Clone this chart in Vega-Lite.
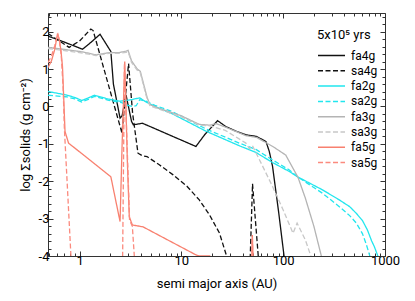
{
"$schema": "https://vega.github.io/schema/vega-lite/v6.json",
"width": 337, "height": 243,
"autosize": {"type": "none"},
"padding": {"left": 48, "top": 13, "right": 30, "bottom": 45},
"background": "white",
"config": {
  "view": {"stroke": "#333", "strokeWidth": 1},
  "font": "Roboto",
  "axis": {"domain": false, "grid": false, "labelFlush": false, "labelOverlap": false, "tickColor": "#333", "labelFont": "Roboto", "labelFontSize": 13, "labelColor": "#000", "titleFont": "Roboto", "titleFontSize": 13, "titleFontWeight": "normal", "titleColor": "#000"},
  "legend": {"orient": "none", "legendX": 269, "legendY": 16, "symbolType": "stroke", "symbolSize": 729, "symbolStrokeWidth": 1.5, "clipHeight": 11, "rowPadding": 2.3, "labelOffset": 5, "labelFont": "Roboto", "labelFontSize": 12, "labelColor": "#000", "titleFont": "Roboto", "titleFontSize": 13, "titleFontWeight": "normal", "titleColor": "#000", "titlePadding": 8, "padding": 0}
},
"data": {"values": [
{"s":"fa4g","a":0.49,"v":1.88},{"s":"fa4g","a":0.61,"v":1.79},{"s":"fa4g","a":0.76,"v":1.69},{"s":"fa4g","a":1.07,"v":1.53},{"s":"fa4g","a":1.3,"v":1.72},{"s":"fa4g","a":1.59,"v":1.93},{"s":"fa4g","a":2.03,"v":1.47},{"s":"fa4g","a":2.15,"v":0.6},{"s":"fa4g","a":2.5,"v":-0.31},{"s":"fa4g","a":2.62,"v":-0.25},{"s":"fa4g","a":2.86,"v":0.31},{"s":"fa4g","a":3.24,"v":-0.4},{"s":"fa4g","a":3.37,"v":-0.49},{"s":"fa4g","a":4.16,"v":-0.45},{"s":"fa4g","a":13.9,"v":-1.07},{"s":"fa4g","a":17,"v":-0.75},{"s":"fa4g","a":22.7,"v":-0.38},{"s":"fa4g","a":27.4,"v":-0.54},{"s":"fa4g","a":35,"v":-0.67},{"s":"fa4g","a":43.3,"v":-0.76},{"s":"fa4g","a":54.3,"v":-0.8},{"s":"fa4g","a":62.9,"v":-0.89},{"s":"fa4g","a":67.8,"v":-0.94},{"s":"fa4g","a":73,"v":-1.2},{"s":"fa4g","a":78.6,"v":-1.6},{"s":"fa4g","a":90,"v":-2.8},{"s":"fa4g","a":102,"v":-4},{"s":"fa4g","a":110,"v":-5},
{"s":"sa4g","a":0.49,"v":1.95},{"s":"sa4g","a":0.79,"v":1.58},{"s":"sa4g","a":1.0,"v":1.75},{"s":"sa4g","a":1.29,"v":2.07},{"s":"sa4g","a":1.36,"v":2.03},{"s":"sa4g","a":2.61,"v":-0.71},{"s":"sa4g","a":3.03,"v":1.15},{"s":"sa4g","a":3.32,"v":-0.18},{"s":"sa4g","a":3.75,"v":-1.25},{"s":"sa4g","a":4.16,"v":-1.32},{"s":"sa4g","a":4.6,"v":-1.34},{"s":"sa4g","a":6.07,"v":-1.56},{"s":"sa4g","a":8.3,"v":-1.83},{"s":"sa4g","a":11.4,"v":-2.14},{"s":"sa4g","a":15,"v":-2.5},{"s":"sa4g","a":18.9,"v":-2.9},{"s":"sa4g","a":23.7,"v":-3.39},{"s":"sa4g","a":27.8,"v":-4},{"s":"sa4g","a":30,"v":-5},{"s":"sa4g","a":46,"v":-5},{"s":"sa4g","a":47.5,"v":-4},{"s":"sa4g","a":50,"v":-2.07},{"s":"sa4g","a":56.9,"v":-4},{"s":"sa4g","a":60,"v":-5},
{"s":"fa2g","a":0.49,"v":0.4},{"s":"fa2g","a":0.735,"v":0.31},{"s":"fa2g","a":0.9,"v":0.24},{"s":"fa2g","a":1.05,"v":0.16},{"s":"fa2g","a":1.2,"v":0.22},{"s":"fa2g","a":1.4,"v":0.3},{"s":"fa2g","a":1.9,"v":0.2},{"s":"fa2g","a":2.5,"v":0.14},{"s":"fa2g","a":3.2,"v":0.18},{"s":"fa2g","a":3.9,"v":0.23},{"s":"fa2g","a":4.5,"v":0.12},{"s":"fa2g","a":5.5,"v":0.0},{"s":"fa2g","a":8.2,"v":-0.2},{"s":"fa2g","a":17.4,"v":-0.66},{"s":"fa2g","a":37,"v":-1.05},{"s":"fa2g","a":54,"v":-1.23},{"s":"fa2g","a":78.6,"v":-1.5},{"s":"fa2g","a":115,"v":-1.74},{"s":"fa2g","a":138,"v":-1.88},{"s":"fa2g","a":243,"v":-2.23},{"s":"fa2g","a":356,"v":-2.5},{"s":"fa2g","a":450,"v":-2.68},{"s":"fa2g","a":523,"v":-2.86},{"s":"fa2g","a":600,"v":-3.05},{"s":"fa2g","a":671,"v":-3.3},{"s":"fa2g","a":740,"v":-3.6},{"s":"fa2g","a":786,"v":-3.75},{"s":"fa2g","a":850,"v":-4},{"s":"fa2g","a":900,"v":-5},
{"s":"sa2g","a":0.49,"v":0.3},{"s":"sa2g","a":0.735,"v":0.26},{"s":"sa2g","a":0.9,"v":0.2},{"s":"sa2g","a":1.05,"v":0.12},{"s":"sa2g","a":1.2,"v":0.18},{"s":"sa2g","a":1.4,"v":0.27},{"s":"sa2g","a":1.9,"v":0.17},{"s":"sa2g","a":2.6,"v":0.1},{"s":"sa2g","a":2.9,"v":0.04},{"s":"sa2g","a":3.3,"v":0.0},{"s":"sa2g","a":3.6,"v":0.02},{"s":"sa2g","a":3.9,"v":0.18},{"s":"sa2g","a":4.5,"v":0.14},{"s":"sa2g","a":5.5,"v":0.03},{"s":"sa2g","a":8.2,"v":-0.14},{"s":"sa2g","a":17.4,"v":-0.6},{"s":"sa2g","a":37,"v":-0.98},{"s":"sa2g","a":54,"v":-1.15},{"s":"sa2g","a":78.6,"v":-1.43},{"s":"sa2g","a":115,"v":-1.7},{"s":"sa2g","a":138,"v":-1.88},{"s":"sa2g","a":243,"v":-2.32},{"s":"sa2g","a":356,"v":-2.68},{"s":"sa2g","a":450,"v":-2.92},{"s":"sa2g","a":523,"v":-3.12},{"s":"sa2g","a":600,"v":-3.4},{"s":"sa2g","a":650,"v":-3.66},{"s":"sa2g","a":710,"v":-4},{"s":"sa2g","a":760,"v":-5},
{"s":"fa3g","a":0.49,"v":1.58},{"s":"fa3g","a":0.735,"v":1.52},{"s":"fa3g","a":1.07,"v":1.46},{"s":"fa3g","a":1.45,"v":1.38},{"s":"fa3g","a":1.96,"v":1.44},{"s":"fa3g","a":2.45,"v":1.44},{"s":"fa3g","a":2.86,"v":1.48},{"s":"fa3g","a":3.0,"v":1.5},{"s":"fa3g","a":3.24,"v":1.22},{"s":"fa3g","a":3.69,"v":1.0},{"s":"fa3g","a":3.95,"v":0.94},{"s":"fa3g","a":4.6,"v":0.25},{"s":"fa3g","a":4.9,"v":0.05},{"s":"fa3g","a":6,"v":-0.05},{"s":"fa3g","a":10,"v":-0.25},{"s":"fa3g","a":15,"v":-0.48},{"s":"fa3g","a":19,"v":-0.5},{"s":"fa3g","a":22,"v":-0.46},{"s":"fa3g","a":27,"v":-0.55},{"s":"fa3g","a":43,"v":-0.78},{"s":"fa3g","a":55,"v":-0.83},{"s":"fa3g","a":63,"v":-0.92},{"s":"fa3g","a":79,"v":-1.07},{"s":"fa3g","a":106,"v":-1.3},{"s":"fa3g","a":130,"v":-1.74},{"s":"fa3g","a":140,"v":-1.9},{"s":"fa3g","a":165,"v":-2.45},{"s":"fa3g","a":200,"v":-3.2},{"s":"fa3g","a":237,"v":-4},{"s":"fa3g","a":260,"v":-5},
{"s":"sa3g","a":0.49,"v":1.55},{"s":"sa3g","a":0.735,"v":1.49},{"s":"sa3g","a":1.07,"v":1.43},{"s":"sa3g","a":1.45,"v":1.36},{"s":"sa3g","a":1.96,"v":1.42},{"s":"sa3g","a":2.45,"v":1.42},{"s":"sa3g","a":2.86,"v":1.45},{"s":"sa3g","a":3.0,"v":1.46},{"s":"sa3g","a":3.24,"v":1.18},{"s":"sa3g","a":3.69,"v":0.97},{"s":"sa3g","a":3.95,"v":0.9},{"s":"sa3g","a":4.5,"v":0.3},{"s":"sa3g","a":4.9,"v":0.02},{"s":"sa3g","a":6,"v":-0.07},{"s":"sa3g","a":10,"v":-0.28},{"s":"sa3g","a":15,"v":-0.5},{"s":"sa3g","a":19,"v":-0.52},{"s":"sa3g","a":27,"v":-0.64},{"s":"sa3g","a":43,"v":-0.98},{"s":"sa3g","a":46.6,"v":-1.13},{"s":"sa3g","a":50,"v":-1.05},{"s":"sa3g","a":58.6,"v":-1.43},{"s":"sa3g","a":78.6,"v":-2.14},{"s":"sa3g","a":100,"v":-2.77},{"s":"sa3g","a":125,"v":-3.39},{"s":"sa3g","a":137,"v":-3.12},{"s":"sa3g","a":165,"v":-3.57},{"s":"sa3g","a":187,"v":-4},{"s":"sa3g","a":200,"v":-5},
{"s":"fa5g","a":0.49,"v":1.04},{"s":"fa5g","a":0.53,"v":1.22},{"s":"fa5g","a":0.57,"v":1.52},{"s":"fa5g","a":0.595,"v":1.8},{"s":"fa5g","a":0.608,"v":1.95},{"s":"fa5g","a":0.63,"v":1.8},{"s":"fa5g","a":0.655,"v":1.52},{"s":"fa5g","a":0.68,"v":1.07},{"s":"fa5g","a":0.72,"v":-0.67},{"s":"fa5g","a":0.78,"v":-0.98},{"s":"fa5g","a":2.03,"v":-1.88},{"s":"fa5g","a":2.3,"v":-2.6},{"s":"fa5g","a":2.5,"v":-3.08},{"s":"fa5g","a":2.62,"v":-1.0},{"s":"fa5g","a":2.78,"v":1.2},{"s":"fa5g","a":2.95,"v":-1.5},{"s":"fa5g","a":3.08,"v":-2.95},{"s":"fa5g","a":3.3,"v":-3.17},{"s":"fa5g","a":4.2,"v":-3.22},{"s":"fa5g","a":13.9,"v":-3.97},{"s":"fa5g","a":15,"v":-4.0},{"s":"fa5g","a":19,"v":-4.0},{"s":"fa5g","a":22,"v":-5},{"s":"fa5g","a":45,"v":-5},{"s":"fa5g","a":49.2,"v":-4},{"s":"fa5g","a":49.8,"v":-3.44},{"s":"fa5g","a":50.5,"v":-4},{"s":"fa5g","a":55,"v":-5},
{"s":"sa5g","a":0.49,"v":1.17},{"s":"sa5g","a":0.53,"v":1.35},{"s":"sa5g","a":0.57,"v":1.62},{"s":"sa5g","a":0.6,"v":1.88},{"s":"sa5g","a":0.612,"v":1.93},{"s":"sa5g","a":0.635,"v":1.75},{"s":"sa5g","a":0.66,"v":1.4},{"s":"sa5g","a":0.69,"v":0.5},{"s":"sa5g","a":0.71,"v":-0.6},{"s":"sa5g","a":0.823,"v":-4},{"s":"sa5g","a":0.85,"v":-5},{"s":"sa5g","a":2.55,"v":-5},{"s":"sa5g","a":2.65,"v":-4},{"s":"sa5g","a":2.76,"v":1.15},{"s":"sa5g","a":3.1,"v":-3.05},{"s":"sa5g","a":3.3,"v":-3.2},{"s":"sa5g","a":3.45,"v":-4},{"s":"sa5g","a":3.55,"v":-5},{"s":"sa5g","a":45,"v":-5},{"s":"sa5g","a":49.3,"v":-4},{"s":"sa5g","a":49.8,"v":-3.5},{"s":"sa5g","a":50.3,"v":-4},{"s":"sa5g","a":55,"v":-5}
]},
"layer": [
 {"mark": {"type": "line", "clip": true, "strokeWidth": 1.3},
  "encoding": {
   "x": {"field": "a", "type": "quantitative", "scale": {"type": "log", "domain": [0.49, 1000], "nice": false},
         "axis": {"orient": "bottom", "values": [1, 10, 100, 1000], "tickSize": -5, "labelExpr": "'' + datum.value", "labelPadding": 3, "title": "semi major axis (AU)", "titlePadding": 10}},
   "y": {"field": "v", "type": "quantitative", "scale": {"domain": [-4, 2.5], "nice": false, "zero": false},
         "axis": {"orient": "left", "values": [-4, -3, -2, -1, 0, 1, 2], "tickSize": -5, "labelExpr": "'' + datum.value", "labelPadding": 4, "title": "log Σsolids (g cm⁻²)", "titlePadding": 6}},
   "color": {"field": "s", "type": "nominal", "title": "5x10⁵ yrs",
             "scale": {"domain": ["fa4g","sa4g","fa2g","sa2g","fa3g","sa3g","fa5g","sa5g"], "range": ["#111111","#111111","#22e6ee","#22e6ee","#b4b4b4","#c8c8c8","#f8806f","#fb8a7e"]}},
   "strokeDash": {"field": "s", "type": "nominal", "title": "5x10⁵ yrs",
             "scale": {"domain": ["fa4g","sa4g","fa2g","sa2g","fa3g","sa3g","fa5g","sa5g"], "range": [[1,0],[5,2.5],[1,0],[5,2.5],[1,0],[5,2.5],[1,0],[5,2.5]]}}
  }},
 {"mark": {"type": "point", "opacity": 0},
  "encoding": {
   "x": {"field": "a", "type": "quantitative", "axis": {"orient": "bottom", "values": [0.5,0.6,0.7,0.8,0.9,2,3,4,5,6,7,8,9,20,30,40,50,60,70,80,90,200,300,400,500,600,700,800,900], "tickSize": -3, "labels": false, "title": null}},
   "y": {"field": "v", "type": "quantitative", "axis": {"orient": "left", "values": [-3.8,-3.6,-3.4,-3.2,-2.8,-2.6,-2.4,-2.2,-1.8,-1.6,-1.4,-1.2,-0.8,-0.6,-0.4,-0.2,0.2,0.4,0.6,0.8,1.2,1.4,1.6,1.8,2.2,2.4], "tickSize": -3, "labels": false, "title": null}}
  }},
 {"mark": {"type": "point", "opacity": 0},
  "encoding": {
   "x": {"field": "a", "type": "quantitative", "axis": {"orient": "top", "values": [1, 10, 100, 1000], "tickSize": -5, "labels": false, "title": null}},
   "y": {"field": "v", "type": "quantitative", "axis": {"orient": "right", "values": [-4, -3, -2, -1, 0, 1, 2], "tickSize": -5, "labels": false, "title": null}}
  }},
 {"mark": {"type": "point", "opacity": 0},
  "encoding": {
   "x": {"field": "a", "type": "quantitative", "axis": {"orient": "top", "values": [0.5,0.6,0.7,0.8,0.9,2,3,4,5,6,7,8,9,20,30,40,50,60,70,80,90,200,300,400,500,600,700,800,900], "tickSize": -3, "labels": false, "title": null}},
   "y": {"field": "v", "type": "quantitative", "axis": {"orient": "right", "values": [-3.8,-3.6,-3.4,-3.2,-2.8,-2.6,-2.4,-2.2,-1.8,-1.6,-1.4,-1.2,-0.8,-0.6,-0.4,-0.2,0.2,0.4,0.6,0.8,1.2,1.4,1.6,1.8,2.2,2.4], "tickSize": -3, "labels": false, "title": null}}
  }}
],
"resolve": {"axis": {"x": "independent", "y": "independent"}}
}
